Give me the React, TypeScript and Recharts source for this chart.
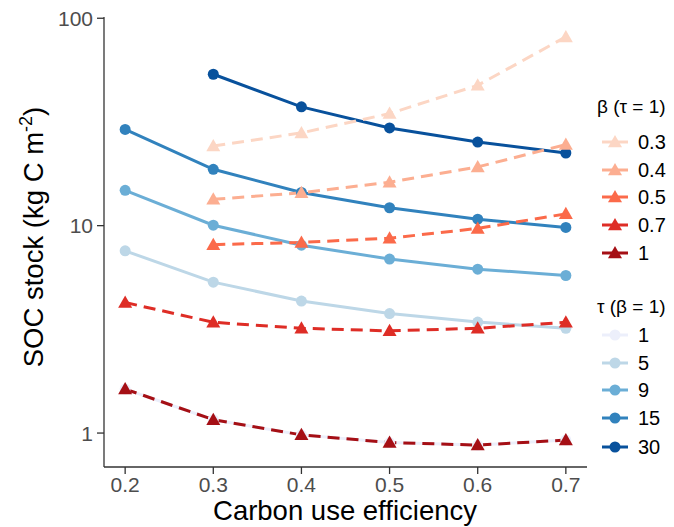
import { LineChart, Line, XAxis, YAxis, Label } from "recharts";

// carbon use efficiency (x)
const cue = [0.2, 0.3, 0.4, 0.5, 0.6, 0.7];

// beta series (tau = 1), dashed with triangles
const beta03 = [null, 24.2, 28.0, 34.7, 47.5, 81.3];
const beta04 = [null, 13.4, 14.4, 16.2, 19.2, 24.6];
const beta05 = [null, 8.1, 8.3, 8.7, 9.7, 11.4];
const beta07 = [4.26, 3.42, 3.2, 3.11, 3.2, 3.42];
const beta1 = [1.63, 1.16, 0.98, 0.9, 0.875, 0.925];

// tau series (beta = 1), solid with circles
const tau1 = [1.63, 1.16, 0.98, 0.9, 0.875, 0.925];
const tau5 = [7.56, 5.34, 4.33, 3.77, 3.43, 3.2];
const tau9 = [14.8, 10.05, 8.05, 6.9, 6.17, 5.75];
const tau15 = [29.1, 18.7, 14.45, 12.2, 10.75, 9.8];
const tau30 = [null, 53.7, 37.4, 29.6, 25.3, 22.4];

const xTicks = [0.2, 0.3, 0.4, 0.5, 0.6, 0.7];
const yTicks = [1, 10, 100];

const betaLabels = ["0.3", "0.4", "0.5", "0.7", "1"];
const tauLabels = ["1", "5", "9", "15", "30"];

const betaSeries = [
  { key: "b03", label: betaLabels[0], color: "#fcd6c4", values: beta03 },
  { key: "b04", label: betaLabels[1], color: "#fcae91", values: beta04 },
  { key: "b05", label: betaLabels[2], color: "#fb6a4a", values: beta05 },
  { key: "b07", label: betaLabels[3], color: "#de2d26", values: beta07 },
  { key: "b1", label: betaLabels[4], color: "#a50f15", values: beta1 },
];

const tauSeries = [
  { key: "t1", label: tauLabels[0], color: "#eceffb", values: tau1 },
  { key: "t5", label: tauLabels[1], color: "#bdd7e7", values: tau5 },
  { key: "t9", label: tauLabels[2], color: "#6baed6", values: tau9 },
  { key: "t15", label: tauLabels[3], color: "#3182bd", values: tau15 },
  { key: "t30", label: tauLabels[4], color: "#08519c", values: tau30 },
];

const data = cue.map((x, i) => {
  const row: Record<string, number | null> = { cue: x };
  [...betaSeries, ...tauSeries].forEach((s) => {
    row[s.key] = s.values[i];
  });
  return row;
});

const FONT = "'Liberation Sans', Arial, Helvetica, sans-serif";

const triPath = (cx: number, cy: number, s = 7) =>
  `M${cx},${cy - s} L${cx + s},${cy + s * 0.75} L${cx - s},${cy + s * 0.75} Z`;

const makeTriangle = (color: string) => (props: any) => {
  const { cx, cy, index } = props;
  if (cx == null || cy == null || isNaN(cy)) return <g key={`t-${index}`} />;
  return <path key={`t-${index}`} d={triPath(cx, cy)} fill={color} />;
};

const makeCircle = (color: string) => (props: any) => {
  const { cx, cy, index } = props;
  if (cx == null || cy == null || isNaN(cy)) return <g key={`c-${index}`} />;
  return <circle key={`c-${index}`} cx={cx} cy={cy} r={5.5} fill={color} />;
};

const LegendOverlay = () => {
  const keyX1 = 602;
  const keyX2 = 628;
  const keyMid = 615;
  const textX = 638;
  const betaY = [142, 170, 197, 225, 253];
  const tauY = [335, 363, 390, 418, 447];
  return (
    <svg
      width={674}
      height={527}
      style={{ position: "absolute", left: 0, top: 0, pointerEvents: "none" }}
      fontFamily={FONT}
    >
      <text x={597} y={113} fontSize={19} fill="#000">
        β (τ = 1)
      </text>
      {betaSeries.map((s, i) => (
        <g key={s.key}>
          <line x1={keyX1} x2={keyX2} y1={betaY[i]} y2={betaY[i]} stroke={s.color} strokeWidth={3} />
          <path d={triPath(keyMid, betaY[i])} fill={s.color} />
          <text x={textX} y={betaY[i] + 7} fontSize={20} fill="#000">
            {s.label}
          </text>
        </g>
      ))}
      <text x={597} y={313} fontSize={19} fill="#000">
        τ (β = 1)
      </text>
      {tauSeries.map((s, i) => (
        <g key={s.key}>
          <line x1={keyX1} x2={keyX2} y1={tauY[i]} y2={tauY[i]} stroke={s.color} strokeWidth={3} />
          <circle cx={keyMid} cy={tauY[i]} r={5.5} fill={s.color} />
          <text x={textX} y={tauY[i] + 7} fontSize={20} fill="#000">
            {s.label}
          </text>
        </g>
      ))}
    </svg>
  );
};

export default function App() {
  return (
    <div style={{ position: "absolute", left: 0, top: 0, width: 674, height: 527, background: "#fff", fontFamily: FONT }}>
      <LineChart
        width={674}
        height={527}
        data={data}
        margin={{ top: 17, right: 87, bottom: 0, left: 0 }}
      >
        <XAxis
          dataKey="cue"
          type="number"
          domain={[0.176, 0.724]}
          ticks={xTicks}
          tickFormatter={(v) => v.toFixed(1)}
          height={60}
          tickSize={7}
          tickMargin={3}
          axisLine={{ stroke: "#333", strokeWidth: 1.3 }}
          tickLine={{ stroke: "#333", strokeWidth: 1.3 }}
          tick={{ fill: "#4d4d4d", fontSize: 21, fontFamily: FONT }}
          allowDataOverflow
        >
          <Label
            content={() => (
              <text x={345} y={520} textAnchor="middle" fontSize={27.5} fill="#000" fontFamily={FONT}>
                Carbon use efficiency
              </text>
            )}
          />
        </XAxis>
        <YAxis
          scale="log"
          domain={[0.686, 101.4]}
          ticks={yTicks}
          width={104}
          tickSize={7}
          tickMargin={4}
          allowDataOverflow
          axisLine={{ stroke: "#333", strokeWidth: 1.3 }}
          tickLine={{ stroke: "#333", strokeWidth: 1.3 }}
          tick={{ fill: "#4d4d4d", fontSize: 21, fontFamily: FONT }}
        >
          <Label
            content={() => (
              <text
                transform="translate(43,237) rotate(-90)"
                textAnchor="middle"
                fontSize={27.5}
                fill="#000"
                fontFamily={FONT}
              >
                SOC stock (kg C m
                <tspan dy={-11} fontSize={18}>
                  -2
                </tspan>
                <tspan dy={11}>)</tspan>
              </text>
            )}
          />
        </YAxis>
        {tauSeries.map((s) => (
          <Line
            key={s.key}
            dataKey={s.key}
            type="linear"
            stroke={s.color}
            strokeWidth={3}
            dot={makeCircle(s.color)}
            activeDot={false}
            isAnimationActive={false}
          />
        ))}
        {betaSeries.map((s) => (
          <Line
            key={s.key}
            dataKey={s.key}
            type="linear"
            stroke={s.color}
            strokeWidth={3}
            strokeDasharray="12 7"
            dot={makeTriangle(s.color)}
            activeDot={false}
            isAnimationActive={false}
          />
        ))}
      </LineChart>
      <LegendOverlay />
    </div>
  );
}
